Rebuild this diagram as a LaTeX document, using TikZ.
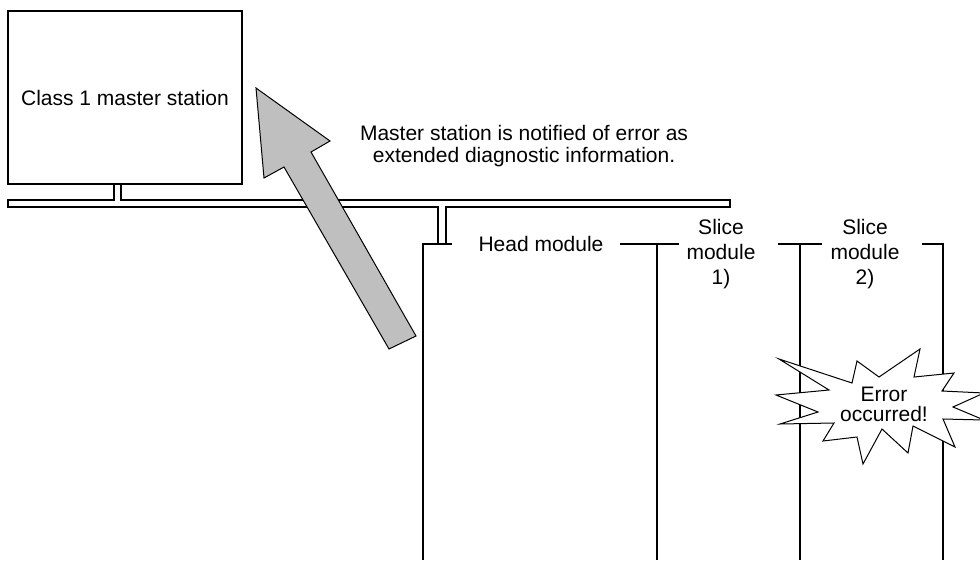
\documentclass[tikz,border=0pt]{standalone}
\usepackage{fontspec}
\setmainfont{Liberation Sans}
\begin{document}
\begin{tikzpicture}[x=1pt,y=-1pt,line width=1.2pt,
    lbl/.style={font=\fontsize{21}{25}\selectfont,align=center,inner sep=0pt}]
    % \draw[help lines] (0, 0) grid (980, 560);
    \useasboundingbox (0,0) rectangle (980,560);
    \clip (0,0) rectangle (980,560);

    \node[draw,lbl,minimum width=234pt,minimum height=173pt] (master) at (125,97.5) {Class 1 master station};

    % bus with stubs
    \coordinate (busl) at (8,200);
    \coordinate (busr) at (730,207);
    \draw (114,184) -- (114,200) -- (busl) -- (8,207) -- (438,207) -- (438,244)
          (446,244) -- (446,207) -- (busr) -- (730,200) -- (121,200) -- (121,184);

    % modules
    \node[lbl] (head) at (541,244) {Head module};
    \node[lbl] (slice1) at (721,254) {Slice\\module\\1)};
    \node[lbl] (slice2) at (865,254) {Slice\\module\\2)};
    \draw (452,244) -- (423,244) -- (423,560);
    \draw (620,244) -- (679,244);
    \draw (657,244) -- (657,560);
    \draw (778,244) -- (822,244);
    \draw (800,244) -- (800,560);
    \draw (922,244) -- (943,244) -- (943,560);

    % notification arrow
    \draw[fill=black!25,line width=1pt] (256,88) -- (330,141) -- (311,152) -- (416,336)
          -- (389,349) -- (284,167) -- (264,178) -- cycle;
    \node[lbl,font=\fontsize{21}{22}\selectfont] (note) at (524,146) {Master station is notified of error as\\extended diagnostic information.};

    % error burst
    \draw[fill=white,line width=1pt] (779,359) -- (852,383) -- (857,361) -- (879,377) -- (920,349)
          -- (914,377) -- (954,373) -- (942,391) -- (984,393) -- (953,407) -- (984,420)
          -- (943,419) -- (955,447) -- (913,426) -- (908,453) -- (882,429) -- (863,464)
          -- (857,437) -- (823,441) -- (834,423) -- (780,424) -- (818,412) -- (776,395)
          -- (829,390) -- cycle;
    \node[lbl,font=\fontsize{21}{20}\selectfont] (error) at (884,404) {Error\\occurred!};
\end{tikzpicture}
\end{document}
